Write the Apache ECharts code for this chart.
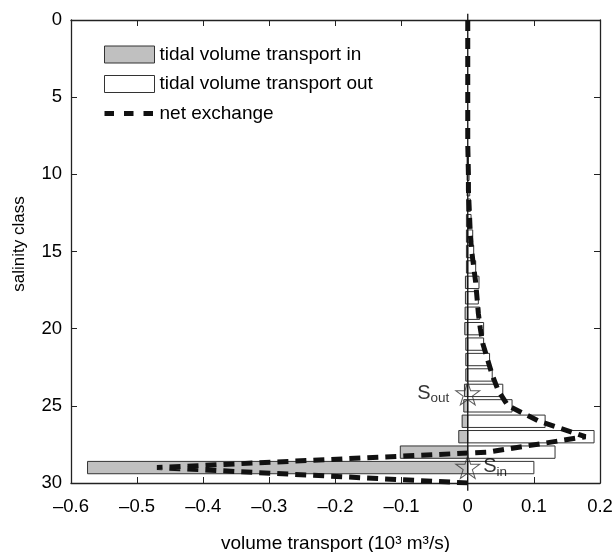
<!DOCTYPE html>
<html>
<head>
<meta charset="UTF-8">
<title>salinity class transport</title>
<script type="text/javascript" src="https://cdn.jsdelivr.net/npm/echarts@6/dist/echarts.min.js"></script>
<style>
html,body{margin:0;padding:0;background:#fff}
#main{width:615px;height:552px}
</style>
</head>
<body>
<div id="main"></div>
<script type="text/javascript">
// salinity classes 0..30
var classes = [0,1,2,3,4,5,6,7,8,9,10,11,12,13,14,15,16,17,18,19,20,21,22,23,24,25,26,27,28,29,30];
// tidal volume transport in (negative), 10^3 m3/s
var volIn = [0,0,0,0,0,0,0,0,0,-0.001,-0.001,-0.001,-0.0015,-0.002,-0.002,-0.002,-0.002,-0.0035,-0.0035,-0.004,
             -0.0045,-0.003,-0.003,-0.003,-0.005,-0.006,-0.0085,-0.0136,-0.102,-0.575,0];
// tidal volume transport out (positive)
var volOut = [0,0,0,0,0,0,0,0,0,0.001,0.002,0.003,0.004,0.005,0.0075,0.009,0.012,0.017,0.016,0.018,
              0.024,0.024,0.033,0.037,0.053,0.067,0.117,0.191,0.132,0.1,0];
// net exchange
var netEx = [0,0,0,0,0,0,0,0,0,0.0005,0.001,0.001,0.002,0.003,0.004,0.006,0.009,0.012,0.014,0.016,
             0.019,0.023,0.03,0.037,0.046,0.061,0.108,0.178,0.03,-0.47,0];
// star markers S_out / S_in
var starNames = ['out','in'];
var starClass = [24.2, 28.96];
var zeroSpan = [-0.4, 30.5];

var xTicks = {min:-0.6, max:0.2, step:0.1};
var yTicks = {min:0, max:30, step:5};

var myChart = echarts.init(document.getElementById('main'));

function fmtX(v){
	v = Math.round(v*10)/10;
	if(v===0) return '0';
	return (v<0 ? '\u2013' : '') + Math.abs(v).toFixed(1);
}

function barItem(params, api){
	var v = api.value(0), c = api.value(1);
	if(!v) return null;
	var p0 = api.coord([0, c-0.4]);
	var p1 = api.coord([v, c+0.4]);
	return {
		type:'rect',
		shape:{x:Math.min(p0[0],p1[0]), y:Math.min(p0[1],p1[1]),
		       width:Math.abs(p1[0]-p0[0]), height:Math.abs(p1[1]-p0[1])},
		style:api.style()
	};
}

var font = 'Liberation Sans, Arial, sans-serif';
var axLine = {onZero:false, lineStyle:{color:'#222', width:1.3}};
var axTick = {inside:true, length:6, lineStyle:{color:'#222', width:1}};

var option = {
	animation:false,
	textStyle:{fontFamily:font},
	grid:{left:71, top:20, right:15, bottom:69, outerBoundsMode:'none'},
	legend:{
		orient:'vertical', left:102, top:45, padding:0,
		itemWidth:50, itemHeight:17, itemGap:10.5,
		textStyle:{color:'#000', fontSize:19, fontFamily:font},
		data:[
			{name:'tidal volume transport in', icon:'rect', itemStyle:{color:'#c0c0c0', borderColor:'#333', borderWidth:1}},
			{name:'tidal volume transport out', icon:'rect', itemStyle:{color:'#fff', borderColor:'#333', borderWidth:1}},
			{name:'net exchange', itemStyle:{opacity:0}, lineStyle:{color:'#111', width:5, type:[9.5,10]}}
		]
	},
	xAxis:[{
		type:'value', position:'bottom', min:xTicks.min, max:xTicks.max, interval:xTicks.step,
		axisLine:axLine, axisTick:axTick, splitLine:{show:false},
		axisLabel:{color:'#000', fontSize:18.5, margin:14, formatter:fmtX},
		name:'volume transport (10\u00b3 m\u00b3/s)', nameLocation:'middle', nameGap:51,
		nameTextStyle:{color:'#000', fontSize:19, fontFamily:font}
	},{
		type:'value', position:'top', min:xTicks.min, max:xTicks.max, interval:xTicks.step,
		axisLine:axLine, axisTick:axTick, splitLine:{show:false}, axisLabel:{show:false}
	}],
	yAxis:[{
		type:'value', position:'left', inverse:true, min:yTicks.min, max:yTicks.max, interval:yTicks.step,
		axisLine:axLine, axisTick:axTick, splitLine:{show:false},
		axisLabel:{color:'#000', fontSize:18.5, margin:9},
		name:'salinity class', nameLocation:'middle', nameGap:43,
		nameTextStyle:{color:'#000', fontSize:17, fontFamily:font, padding:[0,0,0,15]}
	},{
		type:'value', position:'right', inverse:true, min:yTicks.min, max:yTicks.max, interval:yTicks.step,
		axisLine:axLine, axisTick:axTick, splitLine:{show:false}, axisLabel:{show:false}
	}],
	series:[
		{
			name:'tidal volume transport in', type:'custom', renderItem:barItem,
			encode:{x:0, y:1}, z:2,
			itemStyle:{color:'#c0c0c0', borderColor:'#333', borderWidth:1},
			data:classes.map(function(c,i){return [volIn[i], c];})
		},
		{
			name:'tidal volume transport out', type:'custom', renderItem:barItem,
			encode:{x:0, y:1}, z:2,
			itemStyle:{color:'#fff', borderColor:'#333', borderWidth:1},
			data:classes.map(function(c,i){return [volOut[i], c];})
		},
		{
			name:'zero', type:'line', symbol:'none', clip:false, z:3,
			lineStyle:{color:'#111', width:1.3},
			data:zeroSpan.map(function(c){return [0, c];})
		},
		{
			name:'net exchange', type:'line', symbol:'none', z:4,
			itemStyle:{color:'#111'},
			lineStyle:{color:'#111', width:5, type:[11,7]},
			data:classes.map(function(c,i){return [netEx[i], c];})
		},
		{
			name:'stars', type:'scatter', z:5,
			symbol:'path://M50,0 L61.2,34.5 L97.6,34.5 L68.2,55.9 L79.4,90.5 L50,69.1 L20.6,90.5 L31.8,55.9 L2.4,34.5 L38.8,34.5 Z',
			symbolSize:[24,23],
			itemStyle:{color:'rgba(0,0,0,0)', borderColor:'#333', borderWidth:1},
			data:starNames.map(function(n,i){
				return {
					value:[0, starClass[i]],
					label:{
						show:true,
						position:(n==='out' ? 'left' : 'right'),
						distance:(n==='out' ? 6 : 3),
						formatter:'{s|S}{b|' + n + '}',
						rich:{
							s:{fontSize:20, lineHeight:24, color:'#000', fontFamily:font},
							b:{fontSize:13.5, lineHeight:(n==='out' ? 8 : 2), verticalAlign:'bottom', color:'#000', fontFamily:font}
						}
					}
				};
			})
		}
	]
};
myChart.setOption(option);
</script>
</body>
</html>
